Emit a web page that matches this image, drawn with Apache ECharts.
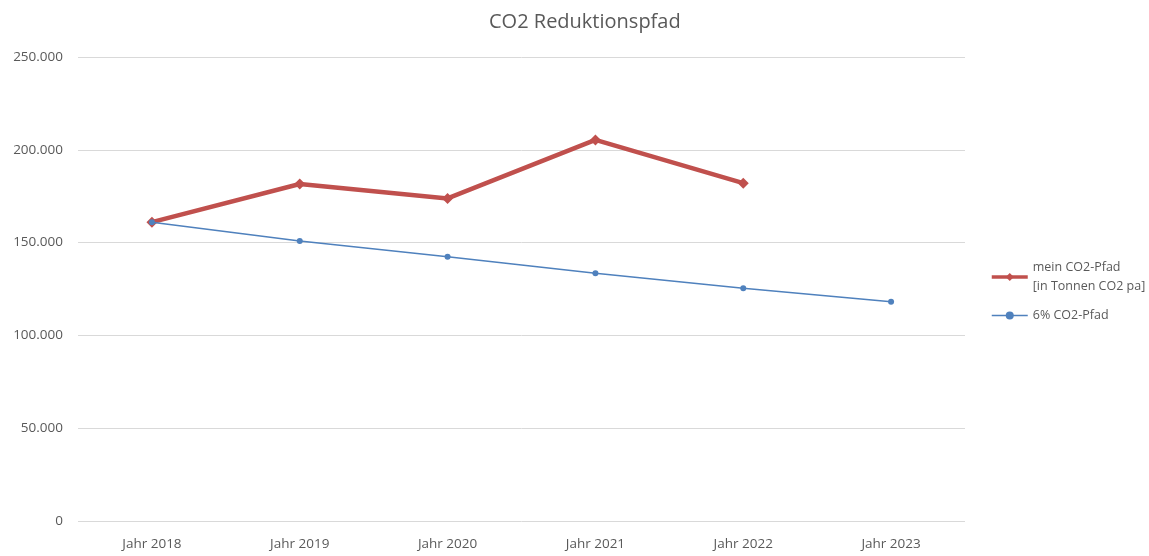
<!DOCTYPE html>
<html>
<head>
<meta charset="utf-8">
<script src="https://cdn.jsdelivr.net/npm/echarts@6/dist/echarts.min.js"></script>
<style>
html, body { margin: 0; padding: 0; background: #fff; }
#chart { width: 1149px; height: 556px; }
</style>
</head>
<body>
<div id="chart"></div>
<script>
var categories = ['Jahr 2018', 'Jahr 2019', 'Jahr 2020', 'Jahr 2021', 'Jahr 2022', 'Jahr 2023'];
var meinPfad = [161000, 181600, 173800, 205300, 182000, null];
var sechsProzentPfad = [161000, 150900, 142400, 133500, 125400, 118100];
var seriesNames = ['mein CO2-Pfad\n[in Tonnen CO2 pa]', '6% CO2-Pfad'];

var fontFamily = '"Open Sans", "Noto Sans", sans-serif';
var chart = echarts.init(document.getElementById('chart'));

function formatThousands(v) {
    return String(v).replace(/\B(?=(\d{3})+(?!\d))/g, '.');
}

chart.setOption({
    animation: false,
    title: {
        text: 'CO2 Reduktionspfad',
        left: 484,
        top: 7,
        textStyle: {
            color: '#595959',
            fontSize: 20,
            fontWeight: 'normal',
            fontFamily: fontFamily
        }
    },
    legend: {
        orient: 'vertical',
        left: 985,
        top: 253,
        itemWidth: 36,
        itemHeight: 10,
        itemGap: 10,
        data: [{
            name: seriesNames[0],
            lineStyle: { width: 3.5 }
        }, {
            name: seriesNames[1],
            lineStyle: { width: 1.5 }
        }],
        textStyle: {
            color: '#595959',
            fontSize: 12.5,
            lineHeight: 19,
            fontFamily: fontFamily
        }
    },
    grid: {
        left: 78,
        right: 184,
        top: 57,
        bottom: 35
    },
    xAxis: {
        type: 'category',
        data: categories,
        boundaryGap: true,
        axisLine: { show: false },
        axisTick: { show: false },
        axisLabel: {
            color: '#595959',
            fontSize: 13.5,
            margin: 16,
            fontFamily: fontFamily
        }
    },
    yAxis: {
        type: 'value',
        min: 0,
        max: 250000,
        interval: 50000,
        axisLine: { show: false },
        axisTick: { show: false },
        axisLabel: {
            color: '#595959',
            fontSize: 13.5,
            margin: 15,
            fontFamily: fontFamily,
            formatter: formatThousands
        },
        splitLine: {
            lineStyle: { color: '#D9D9D9', width: 1 }
        }
    },
    series: [{
        name: seriesNames[0],
        type: 'line',
        data: meinPfad,
        symbol: 'diamond',
        symbolSize: 11,
        z: 3,
        lineStyle: { color: '#C0504D', width: 4.5 },
        itemStyle: { color: '#C0504D' }
    }, {
        name: seriesNames[1],
        type: 'line',
        data: sechsProzentPfad,
        symbol: 'circle',
        symbolSize: 6,
        z: 4,
        lineStyle: { color: '#4F81BD', width: 1.5 },
        itemStyle: { color: '#4F81BD' }
    }]
});
</script>
</body>
</html>
